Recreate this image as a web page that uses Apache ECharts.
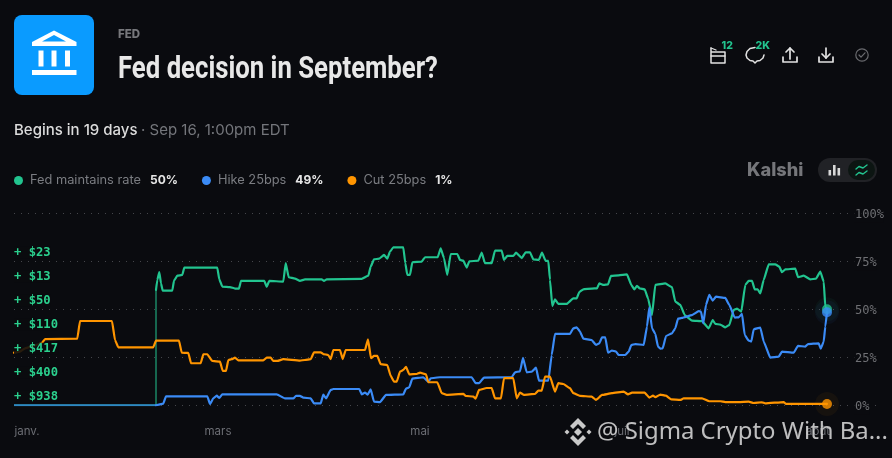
<!DOCTYPE html>
<html><head><meta charset="utf-8">
<style>html,body{margin:0;padding:0;background:#0a0b0f}#c{width:892px;height:458px}</style>
<script src="https://cdn.jsdelivr.net/npm/echarts@6/dist/echarts.min.js"></script>
</head><body><div id="c"></div>
<script>
const seriesNames=['Fed maintains rate','Hike 25bps','Cut 25bps'];
const legendValues=['50%','49%','1%'];
const monthLabels=['janv.','mars','mai','juil','août'];
const monthTicks=[13,204,406,608,804];
const tickerLabels=['+ $23','+ $13','+ $50','+ $110','+ $417','+ $400','+ $938'];
const prelaunchMaintain=[[0,0],[142,0],[142,60.1]];
const prelaunchHike=[[0,0],[142,0]];
const maintain=[[142,60.1],[143.3,65.3],[145.3,69.4],[147,63.5],[148.7,59.7],[158.3,59.7],[160,64.9],[163.3,67.5],[168.3,67.9],[170.3,71.7],[203.3,71.7],[205.3,65.6],[208.3,61.8],[216,61.6],[221,60.8],[225,60.8],[227,64.8],[250.3,64.8],[252.7,61.8],[255.3,64.8],[269.3,64.4],[271.7,74],[274.7,66.7],[281,66],[286,64.8],[291,65.6],[307.7,65.6],[310,64.8],[312.7,65.6],[347.7,65.8],[354.3,67.5],[356.7,72.2],[360,76],[365.3,76.4],[370,78.3],[373.3,76.4],[376,80],[379.3,82.3],[389.3,82.3],[391.3,74],[393.3,67.9],[396,67.9],[398.3,74.5],[407.7,74.8],[411,77.1],[423.7,77.1],[426.7,81.8],[430,76.6],[433.3,67.9],[436.7,78.8],[443.3,78.8],[446,75.7],[449.3,75.3],[452.7,71.7],[455.3,75],[464.3,75.3],[467.7,79.5],[471,74],[477.7,74],[481,80.6],[487.7,80.6],[490,75.7],[493.3,77.8],[499.3,77.8],[502,79.5],[507.7,76.7],[511.7,79.7],[516,79.7],[519.3,76],[524.7,75.7],[528,79.5],[531.7,75.2],[534.3,75.2],[536,65.3],[538.3,51.7],[541,55.2],[544.3,52.8],[552.7,52.8],[559.3,55.7],[562.7,55.7],[565.3,59],[569.3,60.4],[578,60.8],[583,60.9],[585.3,63.5],[589.7,62.7],[594,63],[597,67.4],[604.7,67.7],[613,68.2],[617.3,62.7],[620.3,60.4],[623,62.2],[625.7,60.9],[630.7,60.4],[634,55.7],[638,47],[641.3,62.7],[651.3,63.5],[658,61.5],[661.3,54],[666.3,52.3],[670.7,47],[678,44.1],[688,43.8],[694.7,40.1],[698.7,44.4],[701.3,42.4],[706.3,42],[711.3,40.6],[715.3,41.8],[719.7,49.7],[723,50.3],[727.3,48.8],[731.3,62.7],[734.7,64.8],[738,64.8],[740.7,60.4],[743.7,60.4],[746.3,58.3],[749.7,65.3],[754.7,73.4],[761.3,73.4],[765.3,72.2],[768,69.3],[771.3,70.8],[781.3,71.2],[784,66.7],[789.7,67.5],[796.3,65.6],[802,66],[806.3,69.6],[809.7,64.4],[811.3,51.4],[813,50]];
const hike=[[142,0],[149.3,0.9],[152,4.7],[193.3,4.7],[196,0.7],[199.3,3.6],[202.7,5],[205.3,3.8],[208.3,5.7],[262.7,5.7],[271,3.6],[279.3,3.6],[282,4.9],[286,4.9],[289.3,4],[296.7,3.6],[300,1],[306.7,1],[309.3,5.6],[312,3.6],[316.7,8],[319.3,8.5],[345.3,8.5],[347.7,5.7],[351,6.6],[353.7,5.6],[356.7,8.3],[360,1.9],[366,1.7],[372,5.4],[389.3,5.7],[392,8.7],[395.3,9.4],[398.3,13.9],[409.3,14.6],[414.3,12.3],[416.7,14.1],[426,14.6],[457.7,14.6],[461.7,11.5],[465,11.5],[470,14.4],[497.7,14.6],[501,17.2],[506,17.7],[509,24.7],[512.7,17.2],[517.7,17.5],[522,19.6],[525,12.8],[534.3,12.8],[537.7,26.2],[541,37.2],[556,37.2],[559.3,40.1],[562.7,40.6],[566,38.4],[569.3,34.7],[577.7,34],[582,31.4],[585.3,32.3],[588,35.4],[591.3,35.4],[594,27.4],[598,28.5],[602,28],[604.7,26.2],[611.3,26.2],[614.7,28],[617.3,31.4],[621.3,31.9],[629.7,31.4],[633,41],[635.3,51],[638,40.1],[641.3,37.2],[644,30.6],[646.3,29.5],[648.7,29.7],[652,36.1],[658,37.5],[661.3,40.1],[664,45.1],[668,45.5],[678,47],[684.7,49],[687,48.8],[689.3,42.7],[692,52.3],[695.3,57.5],[698.7,54.5],[702,56.6],[711.3,55.9],[715.3,52.3],[720.7,45.7],[724.7,45.8],[728,47.6],[730.7,36.6],[734.7,33.7],[737.3,33.2],[739.7,39.6],[746.3,40.5],[749.7,33.2],[756.3,24.8],[764.7,25.3],[768,28],[779.7,27.4],[784,30.9],[791.3,30.6],[794,31.9],[804.7,32.3],[806.7,29.5],[809.7,33.2],[811.3,41],[813,48.5]];
const cut=[[0,27.4],[6,28],[11,29.7],[27.7,32.3],[31,34.5],[63.3,34.7],[66,43.9],[98,43.9],[101,34],[104.3,30.2],[139.3,30.2],[142,33.7],[165,33.7],[167.7,27.4],[174.3,27.3],[177,21.9],[186.7,21.9],[189.3,26.6],[193.3,26.6],[198.3,23.1],[206,22.7],[208.7,17.9],[212,17.9],[214.3,23.6],[217.7,24],[221,24.8],[224.3,23.4],[249.3,23.4],[252.7,24.8],[256.7,24.8],[259.3,23.1],[263.3,23.1],[269.3,24],[286,23.3],[291,23.6],[296.7,24],[300,27.6],[306.7,27.6],[309.3,26.7],[314.3,26.2],[316.7,24.1],[319.3,28.8],[326,28.8],[328.7,24.1],[331.7,28.8],[351,28.8],[354,34.4],[357,24.5],[360,25.7],[363.3,25.7],[366.7,21.4],[373.3,21],[376.7,15.3],[380,12.3],[382.7,12.3],[386,17.5],[389.3,18.4],[392,20],[395.3,16.1],[402.7,16.3],[406,17],[412,16.1],[414.3,12],[423.3,12],[427.7,6.3],[432.7,5.4],[449.3,5.9],[451.7,4.9],[459.3,4.5],[461.7,3.5],[465,8],[472.7,9],[477.7,9],[481,3.6],[487,3.6],[490,14.2],[499.3,14.2],[502.7,3.6],[506,6.6],[510,5.4],[521,5.9],[524.3,7.6],[527.7,7.6],[531,14.9],[536,14.9],[541,7.1],[544.3,11.5],[549.3,11.1],[556,8.9],[559.3,6.3],[566,4.9],[577.7,4.5],[582,2.8],[588,5.4],[598,6.3],[609.7,7.1],[614,5.7],[618,6.6],[630.7,6.6],[635.3,4],[639,5],[641.3,4.2],[646.3,5.6],[652,5],[657.3,3.1],[666.3,2.8],[669.7,3.6],[688,3.6],[695.3,2.1],[706.3,2.1],[711.3,1.7],[724.7,1.7],[734.7,1.9],[739.7,1.2],[748,1.6],[751.3,1],[769.7,1.7],[772,0.7],[813,0.7]];

const GREEN='#22c48f',BLUE='#3b8bf6',ORANGE='#ff9500',BG='#0a0b0f';
const colors=[GREEN,BLUE,ORANGE];
const sources=[maintain,hike,cut];
const MONO='"DejaVu Sans Mono",monospace',SANS='Inter,Roboto,sans-serif';

function lineSeries(name,data,color){
  return {name,type:'line',data,showSymbol:false,smooth:0.12,smoothMonotone:'x',z:3,silent:true,
    lineStyle:{color,width:2.2,cap:'round',join:'round'},itemStyle:{color}};
}
const series=[
  {type:'line',data:prelaunchMaintain,showSymbol:false,silent:true,z:2,lineStyle:{color:GREEN,opacity:.5,width:2}},
  {type:'line',data:prelaunchHike,showSymbol:false,silent:true,z:2,lineStyle:{color:'#2f87c4',width:2}},
];
sources.forEach((s,i)=>{
  series.push(lineSeries(seriesNames[i],s,colors[i]));
  const last=s[s.length-1];
  series.push({type:'scatter',data:[last],symbolSize:24,silent:true,z:2,itemStyle:{color:colors[i],opacity:.05}});
  series.push({type:'scatter',data:[last],symbolSize:10,silent:true,z:4,itemStyle:{color:colors[i]}});
});

const t=(x,y,text,fill,font,size,weight,extra)=>Object.assign({type:'text',x,y,silent:true,z:20,
  style:Object.assign({text,fill,fontFamily:font,fontSize:size,fontWeight:weight||'normal',textVerticalAlign:'middle'},(extra||{}).textExtra||{})},extra||{});
const stroke=(c,w)=>({fill:'none',stroke:c,lineWidth:w||1.6,lineJoin:'round',lineCap:'round'});
const line=(pts,c,w)=>({type:'polyline',silent:true,z:20,shape:{points:pts},style:stroke(c,w)});
const fillPoly=(pts,c)=>({type:'polygon',silent:true,z:20,shape:{points:pts},style:{fill:c}});
const rect=(x,y,w,h,fill,r,z)=>({type:'rect',silent:true,z:z||20,shape:{x,y,width:w,height:h,r:r||0},style:{fill}});
const W='#c9c9c9',IC='#e2e2e2';

const graphic=[
  rect(14,15,80,80,'#0a9bff',8,19),
  fillPoly([[54,30.5],[76.5,42],[76.5,46],[32,46],[32,42]],'#fff'),
  Object.assign(fillPoly([[54,35],[66,41.5],[42,41.5]],'#0a9bff'),{z:21}),
  rect(38.5,50.5,5,16,'#fff'),rect(51.5,50.5,5,16,'#fff'),rect(65,50.5,5,16,'#fff'),rect(32,70,44.5,5,'#fff'),
  t(118,34.5,'FED','#77787c',SANS,11.5,800,{textExtra:{letterSpacing:1}}),
  t(118,70,'Fed decision in September?','#e8e8e8','Roboto',31,700,{scaleX:.83,originX:0,originY:0}),
  t(14,130.5,'Begins in 19 days','#dcdcdc',SANS,15,500),
  t(141,130.5,'· Sep 16, 1:00pm EDT','#74767b',SANS,15,400),
  t(747,170.5,'Kalshi','#75767a',SANS,18.2,800,{textExtra:{letterSpacing:-.9}}),
  rect(818,158,59,24,'#212226',12,19),
  rect(848,160,27,20,'#0c1512',10),
  rect(828.5,170,2.6,5.5,'#d8d8d8',0,21),rect(833,165,2.6,10.5,'#d8d8d8',0,21),rect(837.5,168,2.6,7.5,'#d8d8d8',0,21),
  Object.assign(line([[856,169],[859,166.5],[863,168],[867,165]],GREEN,1.4),{z:21}),
  Object.assign(line([[856,175],[859,172.5],[863,174],[867,171]],GREEN,1.4),{z:21}),
  // action icons
  line([[711,52],[725,52],[725,63],[711,63],[711,52],[711,48]],IC,1.5),
  line([[711,48],[716,50]],IC,1.3),line([[711,56],[725,56]],IC,1.3),
  t(721.5,45.5,'12',GREEN,SANS,10.5,800),
  line([[755,47.5],[750,48.5],[747,51.5],[746,55],[747,58],[750,60.5],[753,61],[755,63],[757,61],[760,60.5],[763,58],[764,55]],IC,1.5),
  t(755.5,45.5,'2K',GREEN,SANS,10.5,800),
  line([[790,59],[790,48]],IC,1.7),line([[786,52],[790,48],[794,52]],IC,1.7),line([[783,57],[783,62],[797,62],[797,57]],IC,1.7),
  line([[826,48],[826,58]],IC,1.7),line([[822,54],[826,58],[830,54]],IC,1.7),line([[819,57],[819,62],[833,62],[833,57]],IC,1.7),
  {type:'circle',silent:true,z:20,shape:{cx:862,cy:55,r:6.2},style:stroke('#6a6b6f',1.2)},
  line([[859,55],[861,57.2],[865,52.8]],'#6a6b6f',1.2),
  // watermark logo
  fillPoly([[578,428],[582,432],[578,436],[574,432]],W),
  fillPoly([[567,429.5],[569.5,432],[567,434.5],[564.5,432]],W),
  fillPoly([[589,429.5],[591.5,432],[589,434.5],[586.5,432]],W),
  fillPoly([[578,418],[586,426],[583,429],[578,424],[573,429],[570,426]],W),
  fillPoly([[578,446],[586,438],[583,435],[578,440],[573,435],[570,438]],W),
  t(597,432.5,'@ Sigma Crypto With Ba...','rgba(220,220,220,.86)','"Noto Sans"',23.9,400,{z:30}),
];
tickerLabels.forEach((s,i)=>graphic.push(t(14,252.7+i*24,s,'#2bd08e',MONO,12.2,700,{z:10,textExtra:{backgroundColor:'rgba(10,11,15,.88)'}})));

const chart=echarts.init(document.getElementById('c'),null,{renderer:'canvas'});
chart.setOption({
  backgroundColor:BG,animation:false,
  grid:{left:14,right:12,top:213.3,bottom:52.7,containLabel:false},
  legend:{left:14,top:174,icon:'circle',itemWidth:9,itemHeight:9,itemGap:24,padding:[0,0],selectedMode:false,data:seriesNames,
    formatter:n=>`{n|${n}}{v|${legendValues[seriesNames.indexOf(n)]}}`,
    textStyle:{rich:{n:{color:'#7b7d82',fontFamily:SANS,fontSize:12.8,padding:[0,9,0,2]},v:{color:'#e6e6e6',fontFamily:SANS,fontSize:12,fontWeight:700}}}},
  xAxis:{type:'value',min:0,max:866,splitLine:{show:false},axisLine:{show:false},axisTick:{show:false},
    axisLabel:{customValues:monthTicks,formatter:v=>monthLabels[monthTicks.indexOf(v)],color:'#6c6e74',fontFamily:SANS,fontSize:11.5,margin:20,hideOverlap:false}},
  yAxis:{type:'value',position:'right',min:0,max:100,interval:25,
    splitLine:{show:true,lineStyle:{color:'#45464b',type:[1,6],width:1}},axisLine:{show:false},axisTick:{show:false},
    axisLabel:{inside:true,align:'left',margin:26,color:'#6f7074',fontFamily:MONO,fontSize:12,verticalAlign:'top',lineHeight:14,backgroundColor:BG,padding:[-5,0,0,1],formatter:'{value}%'}},
  series,graphic
});
</script></body></html>
